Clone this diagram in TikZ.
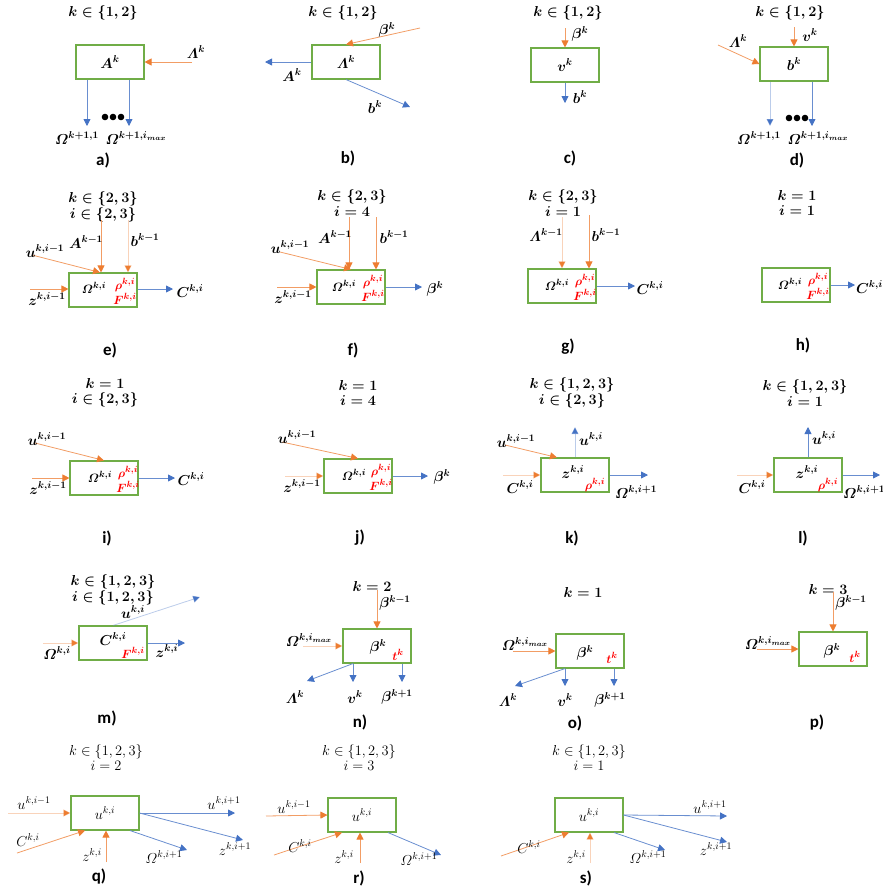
\documentclass[tikz,border=0pt]{standalone}
\usepackage{amsmath}
\usepackage{fontspec}
\newfontfamily\tagfont{Carlito}
\usetikzlibrary{arrows.meta,calc}
\definecolor{frame}{RGB}{112,173,71}
\definecolor{orng}{RGB}{237,125,49}
\definecolor{blu}{RGB}{68,114,196}
\tikzset{
  blk/.style={draw=frame,line width=1.1pt,minimum width=68pt,minimum height=34pt,
    inner sep=0pt,font=\fontsize{14}{15}\selectfont\boldmath},
  sym/.style={font=\fontsize{14}{15}\selectfont\boldmath,inner sep=1pt},
  core/.style={font=\fontsize{13}{14}\selectfont\boldmath,inner sep=0pt},
  hot/.style={core,text=red},
  lite/.style={font=\fontsize{14}{15}\selectfont,inner sep=1pt},
  cond/.style={align=center,font=\fontsize{14}{15.5}\selectfont\boldmath},
  cond0/.style={align=center,font=\fontsize{14}{15}\selectfont},
  tag/.style={font=\fontsize{17}{19}\selectfont\tagfont\bfseries},
  feed/.style={-{Triangle[length=7pt,width=7pt,color=orng]},draw=orng!75,line width=.8pt},
  emit/.style={-{Triangle[length=7pt,width=7pt,color=blu]},draw=blu!80,line width=.8pt},
  pale/.style={draw opacity=.45},
}
\begin{document}
\begin{tikzpicture}[x=1pt,y=-1pt]
  \useasboundingbox (0,0) rectangle (883,895);
  \clip (0,0) rectangle (883,895);

  % a)
  \node[cond] (ca) at (103,13) {$k\in\{1,2\}$};
  \node[blk] (ba) at (110,62) {$A^k$};
  \coordinate (a1) at (192,62);
  \coordinate (a2) at (87,126);
  \coordinate (a3) at (129,126);
  \draw[feed] (a1) -- (ba.east);
  \draw[emit] (a2 |- ba.south) -- (a2);
  \draw[emit] (a3 |- ba.south) -- (a3);
  \foreach \x in {-8,0,8} \fill (113+\x,117) circle (3.3);
  \node[sym] (la1) at (196,52) {$\varLambda^k$};
  \node[sym] (la2) at (77,138) {$\varOmega^{k+1,1}$};
  \node[sym] (la3) at (136,138) {$\varOmega^{k+1,i_{max}}$};
  \node[tag] (ta) at (103,160) {a)};

  % b)
  \node[cond] (cb) at (343,13) {$k\in\{1,2\}$};
  \node[blk] (bb) at (346,62) {$\varLambda^k$};
  \coordinate (b1) at (420,28);
  \coordinate (b2) at (265,62);
  \coordinate (b3) at (410,107);
  \draw[feed] (b1) -- (bb.north);
  \draw[emit] (bb.west) -- (b2);
  \draw[emit] (bb.south) -- (b3);
  \node[sym] (lb1) at (387,30) {$\beta^k$};
  \node[sym] (lb2) at (292,75) {$A^k$};
  \node[sym] (lb3) at (375,107) {$b^k$};
  \node[tag] (tb) at (348,158) {b)};

  % c)
  \node[cond] (cc) at (568,13) {$k\in\{1,2\}$};
  \node[blk] (bc) at (565,65) {$v^k$};
  \coordinate (c1) at (565,28);
  \coordinate (c2) at (565,103);
  \draw[feed] (c1) -- (bc.north);
  \draw[emit] (bc.south) -- (c2);
  \node[sym] (lc1) at (580,34) {$\beta^k$};
  \node[sym] (lc2) at (580,97) {$b^k$};
  \node[tag] (tc) at (570,158) {c)};

  % d)
  \node[cond] (cd) at (790,13) {$k\in\{1,2\}$};
  \node[blk] (bd) at (794,64) {$b^k$};
  \coordinate (d1) at (794,27);
  \coordinate (d2) at (718,45);
  \coordinate (d3) at (770,126);
  \coordinate (d4) at (812,126);
  \draw[feed] (d1) -- (bd.north);
  \draw[feed] (d2) -- (bd.west);
  \draw[emit,pale] (d3 |- bd.south) -- (d3);
  \draw[emit] (d4 |- bd.south) -- (d4);
  \foreach \x in {-8,0,8} \fill (797+\x,118) circle (3.3);
  \node[sym] (ld1) at (810,35) {$v^k$};
  \node[sym] (ld2) at (738,41) {$\varLambda^k$};
  \node[sym] (ld3) at (759,138) {$\varOmega^{k+1,1}$};
  \node[sym] (ld4) at (818,138) {$\varOmega^{k+1,i_{max}}$};
  \node[tag] (td) at (797,160) {d)};

  % e)
  \node[cond] (ce) at (103,207) {$k\in\{2,3\}$\\$i\in\{2,3\}$};
  \node[blk] (be) at (103,290) {};
  \node[core] (oe) at (94,288) {$\varOmega^{k,i}$};
  \node[hot] (re) at (125,285) {$\rho^{k,i}$};
  \node[hot] (fe) at (125,299) {$F^{k,i}$};
  \coordinate (e1) at (101,220);
  \coordinate (e2) at (128,220);
  \coordinate (e3) at (32,255);
  \coordinate (e4) at (30,289);
  \coordinate (e5) at (173,289);
  \draw[feed] (e1) -- (e1 |- be.north);
  \draw[feed,pale] (e2) -- (e2 |- be.north);
  \draw[feed] (e3) -- ([xshift=-3pt]be.north);
  \draw[feed] (e4) -- (e4 -| be.west);
  \draw[emit] (e5 -| be.east) -- (e5);
  \node[sym] (le1) at (86,242) {$A^{k-1}$};
  \node[sym] (le2) at (145,240) {$b^{k-1}$};
  \node[sym] (le3) at (45,251) {$u^{k,i-1}$};
  \node[sym] (le4) at (47,299) {$z^{k,i-1}$};
  \node[sym] (le5) at (190,291) {$C^{k,i}$};
  \node[tag] (te) at (110,350) {e)};

  % f)
  \node[cond] (cf) at (352,203) {$k\in\{2,3\}$\\$i=4$};
  \node[blk] (bf) at (351,287) {};
  \node[core] (of) at (344,286) {$\varOmega^{k,i}$};
  \node[hot] (rf) at (373,282) {$\rho^{k,i}$};
  \node[hot] (ff) at (373,296) {$F^{k,i}$};
  \coordinate (f1) at (349,217);
  \coordinate (f2) at (376,217);
  \coordinate (f3) at (280,252);
  \coordinate (f4) at (277,287);
  \coordinate (f5) at (422,287);
  \draw[feed] (f1) -- (f1 |- bf.north);
  \draw[feed] (f2) -- (f2 |- bf.north);
  \draw[feed] (f3) -- (bf.north);
  \draw[feed] (f4) -- (bf.west);
  \draw[emit] (bf.east) -- (f5);
  \node[sym] (lf1) at (335,237) {$A^{k-1}$};
  \node[sym] (lf2) at (394,237) {$b^{k-1}$};
  \node[sym] (lf3) at (290,247) {$u^{k,i-1}$};
  \node[sym] (lf4) at (293,297) {$z^{k,i-1}$};
  \node[sym] (lf5) at (435,289) {$\beta^k$};
  \node[tag] (tf) at (353,350) {f)};

  % g)
  \node[cond] (cg) at (563,203) {$k\in\{2,3\}$\\$i=1$};
  \node[blk] (bg) at (562,286) {};
  \node[core] (og) at (557,285) {$\varOmega^{k,i}$};
  \node[hot] (rg) at (585,281) {$\rho^{k,i}$};
  \node[hot] (fg) at (585,295) {$F^{k,i}$};
  \coordinate (g1) at (562,217);
  \coordinate (g2) at (589,215);
  \coordinate (g3) at (635,286);
  \draw[feed,pale] (g1) -- (g1 |- bg.north);
  \draw[feed] (g2) -- (g2 |- bg.north);
  \draw[emit] (bg.east) -- (g3);
  \node[sym] (lg1) at (546,235) {$\varLambda^{k-1}$};
  \node[sym] (lg2) at (606,235) {$b^{k-1}$};
  \node[sym] (lg3) at (650,288) {$C^{k,i}$};
  \node[tag] (tg) at (568,347) {g)};

  % h)
  \node[cond] (ch) at (797,203) {$k=1$\\$i=1$};
  \node[blk] (bh) at (796,285) {};
  \node[core] (oh) at (790,284) {$\varOmega^{k,i}$};
  \node[hot] (rh) at (818,280) {$\rho^{k,i}$};
  \node[hot] (fh) at (818,294) {$F^{k,i}$};
  \coordinate (h1) at (855,285);
  \draw[emit] (bh.east) -- (h1);
  \node[sym,anchor=west] (lh1) at (855,287) {$C^{k,i}$};
  \node[tag] (th) at (803,345) {h)};

  % i)
  \node[cond] (ci) at (105,393) {$k=1$\\$i\in\{2,3\}$};
  \node[blk] (bi) at (104,478) {};
  \node[core] (oi) at (100,477) {$\varOmega^{k,i}$};
  \node[hot] (ri) at (128,473) {$\rho^{k,i}$};
  \node[hot] (fi) at (128,487) {$F^{k,i}$};
  \coordinate (i1) at (35,443);
  \coordinate (i2) at (32,478);
  \coordinate (i3) at (175,478);
  \draw[feed] (i1) -- (bi.north);
  \draw[feed] (i2) -- (bi.west);
  \draw[emit] (bi.east) -- (i3);
  \node[sym] (li1) at (47,439) {$u^{k,i-1}$};
  \node[sym] (li2) at (48,488) {$z^{k,i-1}$};
  \node[sym] (li3) at (191,479) {$C^{k,i}$};
  \node[tag] (ti) at (107,538) {i)};

  % j)
  \node[cond] (cj) at (358,393) {$k=1$\\$i=4$};
  \node[blk] (bj) at (358,476) {};
  \node[core] (oj) at (354,475) {$\varOmega^{k,i}$};
  \node[hot] (rj) at (381,471) {$\rho^{k,i}$};
  \node[hot] (fj) at (381,485) {$F^{k,i}$};
  \coordinate (j1) at (282,442);
  \coordinate (j2) at (285,476);
  \coordinate (j3) at (428,476);
  \draw[feed] (j1) -- (bj.north);
  \draw[feed,pale] (j2) -- (bj.west);
  \draw[emit] (bj.east) -- (j3);
  \node[sym] (lj1) at (297,437) {$u^{k,i-1}$};
  \node[sym] (lj2) at (302,486) {$z^{k,i-1}$};
  \node[sym] (lj3) at (442,477) {$\beta^k$};
  \node[tag] (tj) at (360,538) {j)};

  % k)
  \node[cond] (ck) at (572,393) {$k\in\{1,2,3\}$\\$i\in\{2,3\}$};
  \node[blk] (bk) at (575,475) {};
  \node[sym] (ok) at (573,472) {$z^{k,i}$};
  \node[hot] (rk) at (595,485) {$\rho^{k,i}$};
  \coordinate (k1) at (575,427);
  \coordinate (k2) at (505,445);
  \coordinate (k3) at (503,475);
  \coordinate (k4) at (648,475);
  \draw[emit,pale] (bk.north) -- (k1);
  \draw[feed] (k2) -- ([xshift=-18pt]bk.north);
  \draw[feed,pale] (k3) -- (bk.west);
  \draw[emit] (bk.east) -- (k4);
  \node[sym] (lk1) at (591,439) {$u^{k,i}$};
  \node[sym] (lk2) at (516,441) {$u^{k,i-1}$};
  \node[sym] (lk3) at (520,487) {$C^{k,i}$};
  \node[sym] (lk4) at (636,492) {$\varOmega^{k,i+1}$};
  \node[tag] (tk) at (572,538) {k)};

  % l)
  \node[cond] (cl) at (805,393) {$k\in\{1,2,3\}$\\$i=1$};
  \node[blk] (bl) at (808,475) {};
  \node[sym] (ol) at (807,472) {$z^{k,i}$};
  \node[hot] (rl) at (828,485) {$\rho^{k,i}$};
  \coordinate (l1) at (808,427);
  \coordinate (l2) at (737,475);
  \coordinate (l3) at (880,475);
  \draw[emit] (bl.north) -- (l1);
  \draw[feed,pale] (l2) -- (bl.west);
  \draw[emit] (bl.east) -- (l3);
  \node[sym] (ll1) at (824,438) {$u^{k,i}$};
  \node[sym] (ll2) at (752,487) {$C^{k,i}$};
  \node[sym,anchor=west] (ll3) at (842,492) {$\varOmega^{k,i+1}$};
  \node[tag] (tl) at (803,538) {l)};

  % m)
  \node[cond] (cm) at (113,590) {$k\in\{1,2,3\}$\\$i\in\{1,2,3\}$};
  \node[blk] (bm) at (113,643) {};
  \node[sym] (om) at (113,639) {$C^{k,i}$};
  \node[hot] (fm) at (133,653) {$F^{k,i}$};
  \coordinate (m1) at (43,643);
  \coordinate (m2) at (200,597);
  \coordinate (m3) at (185,643);
  \draw[feed,pale] (m1) -- (bm.west);
  \draw[emit,pale] (bm.north) -- (m2);
  \draw[emit] (bm.east) -- (m3);
  \node[sym] (lm1) at (57,653) {$\varOmega^{k,i}$};
  \node[sym] (lm2) at (133,612) {$u^{k,i}$};
  \node[sym] (lm3) at (167,651) {$z^{k,i}$};
  \node[tag] (tm) at (107,718) {m)};

  % n)
  \node[cond] (cn) at (372,586) {$k=2$};
  \node[blk] (bn) at (377,646) {};
  \node[sym] (on) at (378,647) {$\beta^k$};
  \node[hot] (rn) at (398,655) {$t^k$};
  \coordinate (n1) at (377,590);
  \coordinate (n2) at (303,646);
  \coordinate (n3) at (307,681);
  \coordinate (n4) at (353,682);
  \coordinate (n5) at (402,682);
  \draw[feed] (n1) -- (bn.north);
  \draw[feed,pale] (n2) -- (bn.west);
  \draw[emit] (n4 |- bn.south) -- (n3);
  \draw[emit] (n4 |- bn.south) -- (n4);
  \draw[emit] (n5 |- bn.south) -- (n5);
  \node[sym] (ln1) at (395,603) {$\beta^{k-1}$};
  \node[sym] (ln2) at (309,640) {$\varOmega^{k,i_{max}}$};
  \node[sym] (ln3) at (295,697) {$\varLambda^k$};
  \node[sym] (ln4) at (355,697) {$v^k$};
  \node[sym] (ln5) at (397,697) {$\beta^{k+1}$};
  \node[tag] (tn) at (360,722) {n)};

  % o)
  \node[cond] (co) at (583,592) {$k=1$};
  \node[blk] (bo) at (590,651) {};
  \node[sym] (oo) at (585,653) {$\beta^k$};
  \node[hot] (ro) at (612,658) {$t^k$};
  \coordinate (o1) at (513,651);
  \coordinate (o2) at (515,686);
  \coordinate (o3) at (565,686);
  \coordinate (o4) at (614,686);
  \draw[feed] (o1) -- (bo.west);
  \draw[emit] (o3 |- bo.south) -- (o2);
  \draw[emit] (o3 |- bo.south) -- (o3);
  \draw[emit] (o4 |- bo.south) -- (o4);
  \node[sym] (lo1) at (525,644) {$\varOmega^{k,i_{max}}$};
  \node[sym] (lo2) at (508,700) {$\varLambda^k$};
  \node[sym] (lo3) at (565,700) {$v^k$};
  \node[sym] (lo4) at (610,700) {$\beta^{k+1}$};
  \node[tag] (to) at (575,723) {o)};

  % p)
  \node[cond] (cp) at (828,589) {$k=3$};
  \node[blk] (bp) at (833,649) {};
  \node[sym] (op) at (832,651) {$\beta^k$};
  \node[hot] (rp) at (855,657) {$t^k$};
  \coordinate (p1) at (833,592);
  \coordinate (p2) at (757,649);
  \draw[feed] (p1) -- (bp.north);
  \draw[feed] (p2) -- (bp.west);
  \node[sym] (lp1) at (851,603) {$\beta^{k-1}$};
  \node[sym] (lp2) at (768,643) {$\varOmega^{k,i_{max}}$};
  \node[tag] (tp) at (817,723) {p)};

  % q)
  \node[cond0] (cq) at (106,758) {$k\in\{1,2,3\}$\\$i=2$};
  \node[blk,font=\fontsize{14}{15}\selectfont] (bq) at (105,813) {$u^{k,i}$};
  \coordinate (q1) at (8,813);
  \coordinate (q2) at (17,853);
  \coordinate (q3) at (106,862);
  \coordinate (q4) at (187,850);
  \coordinate (q5) at (235,813);
  \coordinate (q6) at (243,840);
  \draw[feed,pale] (q1) -- (bq.west);
  \draw[feed] (q2) -- ([xshift=-20pt]bq.south);
  \draw[feed] (q3) -- (q3 |- bq.south);
  \draw[emit] ([xshift=25pt]bq.south) -- (q4);
  \draw[emit] (bq.east) -- (q5);
  \draw[emit] (bq.east) -- (q6);
  \node[lite] (lq1) at (34,803) {$u^{k,i-1}$};
  \node[lite] (lq2) at (28,840) {$C^{k,i}$};
  \node[lite] (lq3) at (92,855) {$z^{k,i}$};
  \node[lite] (lq4) at (164,857) {$\varOmega^{k,i+1}$};
  \node[lite] (lq5) at (224,803) {$u^{k,i+1}$};
  \node[lite] (lq6) at (235,849) {$z^{k,i+1}$};
  \node[tag] (tq) at (99,877) {q)};

  % r)
  \node[cond0] (cr) at (359,758) {$k\in\{1,2,3\}$\\$i=3$};
  \node[blk,font=\fontsize{14}{15}\selectfont] (br) at (362,815) {$u^{k,i}$};
  \coordinate (r1) at (266,816);
  \coordinate (r2) at (274,855);
  \coordinate (r3) at (360,863);
  \coordinate (r4) at (441,855);
  \draw[feed] (r1) -- (br.west);
  \draw[feed] (r2) -- ([xshift=-20pt]br.south);
  \draw[feed] (r3) -- (r3 |- br.south);
  \draw[emit] ([xshift=26pt]br.south) -- (r4);
  \node[lite] (lr1) at (294,807) {$u^{k,i-1}$};
  \node[lite] (lr2) at (300,846) {$C^{k,i}$};
  \node[lite] (lr3) at (344,857) {$z^{k,i}$};
  \node[lite] (lr4) at (419,859) {$\varOmega^{k,i+1}$};
  \node[tag] (tr) at (359,878) {r)};

  % s)
  \node[cond0] (cs) at (589,758) {$k\in\{1,2,3\}$\\$i=1$};
  \node[blk,font=\fontsize{14}{15}\selectfont] (bs) at (589,815) {$u^{k,i}$};
  \coordinate (s1) at (501,856);
  \coordinate (s2) at (590,863);
  \coordinate (s3) at (665,850);
  \coordinate (s4) at (727,816);
  \coordinate (s5) at (727,842);
  \draw[feed] (s1) -- ([xshift=-20pt]bs.south);
  \draw[feed,pale] (s2) -- (s2 |- bs.south);
  \draw[emit] ([xshift=25pt]bs.south) -- (s3);
  \draw[emit] (bs.east) -- (s4);
  \draw[emit] (bs.east) -- (s5);
  \node[lite] (ls1) at (529,847) {$C^{k,i}$};
  \node[lite] (ls2) at (576,857) {$z^{k,i}$};
  \node[lite] (ls3) at (648,857) {$\varOmega^{k,i+1}$};
  \node[lite] (ls4) at (710,807) {$u^{k,i+1}$};
  \node[lite] (ls5) at (716,849) {$z^{k,i+1}$};
  \node[tag] (ts) at (586,878) {s)};
\end{tikzpicture}
\end{document}
